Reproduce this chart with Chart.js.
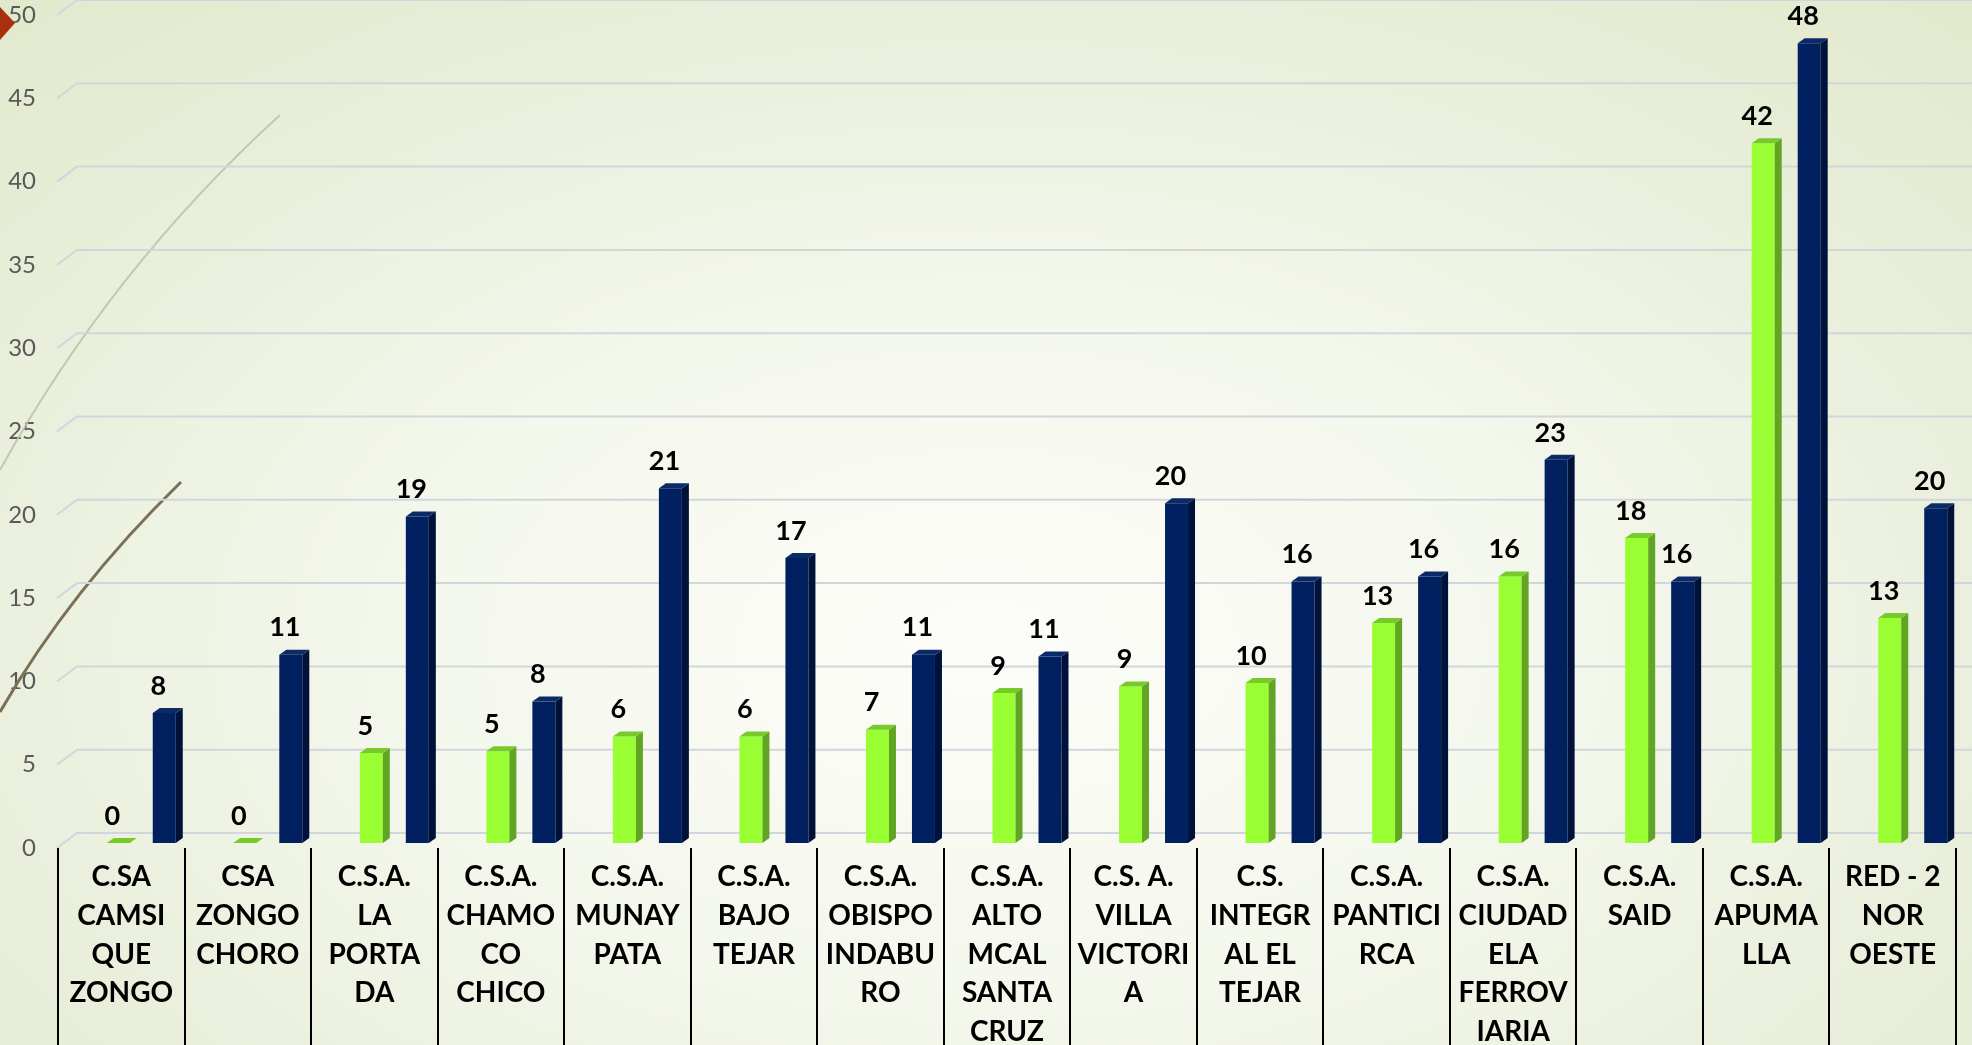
<!DOCTYPE html>
<html lang="es">
<head>
  <meta charset="UTF-8">
  <title>Centros de salud</title>
  <style>
    * { margin: 0; padding: 0; box-sizing: border-box; }
    body {
      width: 1972px;
      height: 1045px;
      overflow: hidden;
      background: radial-gradient(ellipse 75% 85% at 50% 62%, #fcfdf9 0%, #f4f7ec 40%, #e9efdb 70%, #e1e9cc 100%);
    }
    canvas { display: block; }
  </style>
  <script src="https://cdn.jsdelivr.net/npm/chart.js"></script>
</head>
<body>
  <canvas id="chart" width="1972" height="1045"></canvas>

  <script>
    // Categories (multi-line labels as shown in the slide)
    const categories = [
      ['C.SA', 'CAMSI', 'QUE', 'ZONGO'],
      ['CSA', 'ZONGO', 'CHORO'],
      ['C.S.A.', 'LA', 'PORTA', 'DA'],
      ['C.S.A.', 'CHAMO', 'CO', 'CHICO'],
      ['C.S.A.', 'MUNAY', 'PATA'],
      ['C.S.A.', 'BAJO', 'TEJAR'],
      ['C.S.A.', 'OBISPO', 'INDABU', 'RO'],
      ['C.S.A.', 'ALTO', 'MCAL', 'SANTA', 'CRUZ'],
      ['C.S. A.', 'VILLA', 'VICTORI', 'A'],
      ['C.S.', 'INTEGR', 'AL EL', 'TEJAR'],
      ['C.S.A.', 'PANTICI', 'RCA'],
      ['C.S.A.', 'CIUDAD', 'ELA', 'FERROV', 'IARIA'],
      ['C.S.A.', 'SAID'],
      ['C.S.A.', 'APUMA', 'LLA'],
      ['RED - 2', 'NOR', 'OESTE']
    ];

    // bar heights
    const greenValues = [0, 0, 5.4, 5.5, 6.4, 6.4, 6.8, 9.0, 9.4, 9.6, 13.2, 16.0, 18.3, 42.0, 13.5];
    const navyValues  = [7.8, 11.3, 19.6, 8.5, 21.3, 17.1, 11.3, 11.2, 20.4, 15.7, 16.0, 23.0, 15.7, 48.0, 20.1];

    // data labels printed above the bars
    const greenLabels = [0, 0, 5, 5, 6, 6, 7, 9, 9, 10, 13, 16, 18, 42, 13];
    const navyLabels  = [8, 11, 19, 8, 21, 17, 11, 11, 20, 16, 16, 23, 16, 48, 20];

    const yMin = 0, yMax = 50, yStep = 5;

    const greenColors = { front: '#99ff33', side: '#62a523', top: '#78c92a' };
    const navyColors  = { front: '#002060', side: '#00123a', top: '#0c2a66' };

    const SHIFT_X = 20, SHIFT_Y = -5;   // bars sit on the back wall
    const DX = 7, DY = -5;              // 3d depth of each bar

    // slide decoration + slanted grid lines
    const backdrop = {
      id: 'backdrop',
      beforeDatasetsDraw(chart) {
        const ctx = chart.ctx;
        const y = chart.scales.y;
        const left = chart.chartArea.left;

        // theme curves
        ctx.save();
        ctx.strokeStyle = 'rgba(190,196,170,0.9)';
        ctx.lineWidth = 2;
        ctx.beginPath();
        ctx.moveTo(280, 115);
        ctx.quadraticCurveTo(110, 270, 0, 470);
        ctx.stroke();

        ctx.strokeStyle = '#7b6f55';
        ctx.lineWidth = 3;
        ctx.beginPath();
        ctx.moveTo(181, 482);
        ctx.quadraticCurveTo(70, 590, 0, 712);
        ctx.stroke();
        ctx.restore();

        // grid lines
        ctx.save();
        ctx.strokeStyle = '#d3d5dc';
        ctx.lineWidth = 2;
        for (let v = yMin; v <= yMax; v += yStep) {
          const py = y.getPixelForValue(v);
          ctx.beginPath();
          ctx.moveTo(left - 1, py);
          ctx.lineTo(left + 19, py - 15);
          ctx.lineTo(chart.width, py - 15);
          ctx.stroke();
        }
        ctx.restore();

        // red marker top-left
        ctx.save();
        ctx.fillStyle = '#a8300f';
        ctx.beginPath();
        ctx.moveTo(0, 7);
        ctx.lineTo(15, 23);
        ctx.lineTo(0, 40);
        ctx.closePath();
        ctx.fill();
        ctx.restore();

        // move bars back
        ctx.save();
        ctx.translate(SHIFT_X, SHIFT_Y);
      },
      afterDatasetsDraw(chart) {
        const ctx = chart.ctx;
        const sets = [
          { meta: chart.getDatasetMeta(0), col: greenColors, labels: greenLabels },
          { meta: chart.getDatasetMeta(1), col: navyColors, labels: navyLabels }
        ];
        sets.forEach(s => {
          s.meta.data.forEach(bar => {
            const p = bar.getProps(['x', 'y', 'base', 'width'], true);
            const l = p.x - p.width / 2, r = p.x + p.width / 2;
            // side face
            ctx.fillStyle = s.col.side;
            ctx.beginPath();
            ctx.moveTo(r, p.y);
            ctx.lineTo(r + DX, p.y + DY);
            ctx.lineTo(r + DX, p.base + DY);
            ctx.lineTo(r, p.base);
            ctx.closePath();
            ctx.fill();
            // top face
            ctx.fillStyle = s.col.top;
            ctx.beginPath();
            ctx.moveTo(l, p.y);
            ctx.lineTo(l + DX, p.y + DY);
            ctx.lineTo(r + DX, p.y + DY);
            ctx.lineTo(r, p.y);
            ctx.closePath();
            ctx.fill();
          });
        });
        ctx.restore();

        // value labels
        ctx.save();
        ctx.fillStyle = '#000';
        ctx.font = 'bold 27px Lato';
        ctx.textAlign = 'center';
        ctx.textBaseline = 'middle';
        sets.forEach(s => {
          s.meta.data.forEach((bar, i) => {
            const p = bar.getProps(['x', 'y'], true);
            ctx.fillText(String(s.labels[i]), p.x + SHIFT_X - 6, p.y + SHIFT_Y - 27);
          });
        });
        ctx.restore();
      },
      afterDraw(chart) {
        // table separators under the plot
        const ctx = chart.ctx;
        const x = chart.scales.x;
        const step = x.width / categories.length;
        ctx.save();
        ctx.strokeStyle = '#000';
        ctx.lineWidth = 2;
        for (let i = 0; i <= categories.length; i++) {
          const px = Math.round(x.left + i * step);
          ctx.beginPath();
          ctx.moveTo(px, chart.chartArea.bottom);
          ctx.lineTo(px, chart.height);
          ctx.stroke();
        }
        ctx.restore();
      }
    };

    new Chart(document.getElementById('chart'), {
      type: 'bar',
      data: {
        labels: categories,
        datasets: [
          { label: 'A', data: greenValues, backgroundColor: greenColors.front },
          { label: 'B', data: navyValues, backgroundColor: navyColors.front }
        ]
      },
      options: {
        responsive: false,
        animation: false,
        layout: { padding: { top: 15, right: 16, left: 0, bottom: 0 } },
        datasets: { bar: { categoryPercentage: 0.727, barPercentage: 0.5 } },
        plugins: { legend: { display: false }, tooltip: { enabled: false } },
        scales: {
          x: {
            grid: { display: false, drawTicks: false },
            border: { display: false },
            ticks: {
              color: '#000',
              font: { family: 'Lato', weight: 'bold', size: 28, lineHeight: 1.38 },
              padding: 10,
              maxRotation: 0,
              autoSkip: false
            },
            afterFit(scale) {
              scale.height = 197;
              scale.paddingTop = 0;
              scale.paddingBottom = 0;
            }
          },
          y: {
            min: yMin,
            max: yMax,
            grid: { display: false, drawTicks: false },
            border: { display: false },
            ticks: {
              stepSize: yStep,
              color: '#595959',
              font: { family: 'Lato', size: 24 },
              padding: 22
            },
            afterFit(scale) {
              scale.width = 58;
              scale.paddingTop = 0;
              scale.paddingBottom = 0;
            }
          }
        }
      },
      plugins: [backdrop]
    });
  </script>
</body>
</html>
